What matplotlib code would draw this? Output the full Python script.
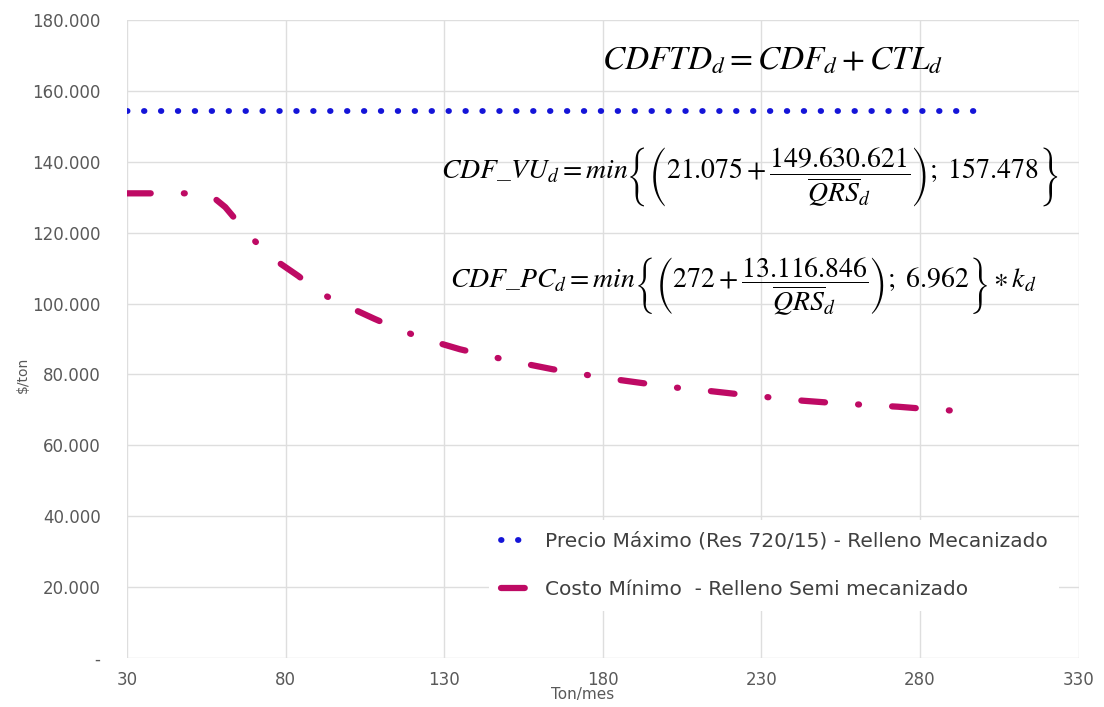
import matplotlib
matplotlib.use("Agg")
import matplotlib.pyplot as plt
from matplotlib.ticker import FuncFormatter

plt.rcParams['mathtext.fontset'] = 'stix'

# Precio maximo (Res 720/15) - relleno mecanizado
x_precio = [30, 300]
y_precio = [154400, 154400]

# Costo minimo - relleno semi mecanizado
x_costo = [30, 39, 49, 54, 58, 61, 64, 70, 77, 84, 91, 100, 108, 117, 127,
           135, 145, 155, 164, 174, 184, 193, 203, 214, 223, 233, 243, 252,
           263, 273, 283, 292]
y_costo = [131100, 131100, 131100, 131000, 129400, 127200, 124000, 117900,
           112100, 107800, 102900, 99000, 95700, 92200, 89200, 87100, 85000,
           83100, 81500, 80000, 78600, 77500, 76300, 75300, 74400, 73500,
           72600, 72000, 71400, 70900, 70200, 69700]

x_ticks = [30, 80, 130, 180, 230, 280, 330]
y_ticks = [0, 20000, 40000, 60000, 80000, 100000, 120000, 140000, 160000, 180000]

label_precio = 'Precio Máximo (Res 720/15) - Relleno Mecanizado'
label_costo = 'Costo Mínimo  - Relleno Semi mecanizado'

blue = '#1414d8'
magenta = '#be0a64'
grey = '#595959'


def miles(v, pos):
    if v == 0:
        return '-'
    return '{:,.0f}'.format(v).replace(',', '.')


fig = plt.figure(figsize=(11.04, 7.07), dpi=100)
ax = fig.add_axes([0.115, 0.0693, 0.862, 0.9024])

ax.plot(x_precio, y_precio, color=blue, lw=4.2, dashes=(0.1, 2.8),
        dash_capstyle='round', label=label_precio)
ax.plot(x_costo, y_costo, color=magenta, lw=4.5, dashes=(3.8, 5.3, 0.15, 5.3),
        dash_capstyle='round', dash_joinstyle='round', label=label_costo)

ax.set_xlim(30, 330)
ax.set_ylim(0, 180000)
ax.set_xticks(x_ticks)
ax.set_yticks(y_ticks)
ax.yaxis.set_major_formatter(FuncFormatter(miles))
ax.grid(True, color='#dedede', lw=1)
ax.set_axisbelow(True)
for s in ax.spines.values():
    s.set_visible(False)
ax.tick_params(length=0, colors=grey)
ax.tick_params(axis='y', labelsize=12, pad=19)
ax.tick_params(axis='x', labelsize=12, pad=9)

ax.set_ylabel(r'\$/ton', fontsize=10, color=grey)
ax.yaxis.set_label_coords(-0.102, 0.443)
ax.set_xlabel('Ton/mes', fontsize=11, color=grey)
ax.xaxis.set_label_coords(0.479, -0.046)

leg = ax.legend(loc='center left', bbox_to_anchor=(0.37, 0.145),
                frameon=True, facecolor='white', edgecolor='none', framealpha=1,
                handlelength=1.65, handletextpad=0.5, labelspacing=1.45,
                borderpad=0.6, prop={'family': 'DejaVu Sans', 'size': 14.5})
for t in leg.get_texts():
    t.set_color('#404040')

fig.text(773 / 1104, 1 - 60 / 707, r'$CDFTD_d = CDF_d + CTL_d$', fontsize=24,
         ha='center', va='center')

ax.text(0.654, 0.754,
        r'$CDF\_VU_d = min\left\{\left(21.075 + \dfrac{149.630.621}{\overline{QRS}_d}\right);\ 157.478\right\}$',
        transform=ax.transAxes, fontsize=20, ha='center', va='center')
ax.text(0.648, 0.583,
        r'$CDF\_PC_d = min\left\{\left(272 + \dfrac{13.116.846}{\overline{QRS}_d}\right);\ 6.962\right\} \ast k_d$',
        transform=ax.transAxes, fontsize=20, ha='center', va='center')

fig.savefig('out.png', dpi=100)
